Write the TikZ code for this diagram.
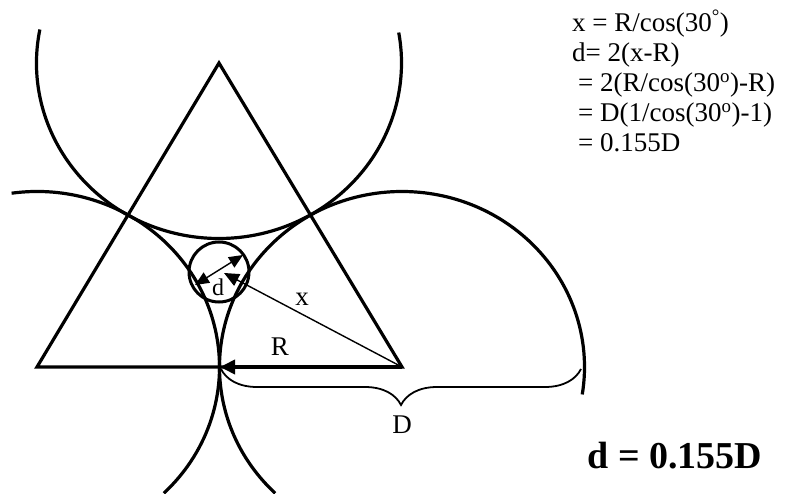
\documentclass[tikz,border=0pt]{standalone}
\usepackage{fontspec}
\setmainfont{Liberation Serif}
\usetikzlibrary{arrows.meta,decorations.pathreplacing}

\begin{document}
\begin{tikzpicture}[
    x=1pt,y=1pt,
    thickline/.style={line width=3.2pt},
    thinline/.style={line width=1.4pt},
    bigtip/.style={-{Triangle[length=15pt,width=13pt]}},
    lbl/.style={font=\fontsize{27}{32}\selectfont},
    eqline/.style={anchor=base west,inner sep=0pt,font=\fontsize{27}{30}\selectfont}
  ]
    \useasboundingbox (0,0) rectangle (792,-494);
    \coordinate (A) at (37,-367);
    \coordinate (B) at (402,-367);
    \coordinate (C) at (219,-63);
    \coordinate (T) at (220,-367);
    \coordinate (O) at (219,-272);
    \coordinate (xtip) at (224,-273);
    \coordinate (d1) at (195,-285);
    \coordinate (d2) at (243,-255);

    % triangle and the three circles
    \draw[thickline,line join=miter] (A) -- (B) -- (C) -- cycle;
    \draw[thickline] (C) ++(169:182.5 and 175.5) arc[start angle=169,end angle=370,x radius=182.5,y radius=175.5];
    \draw[thickline] (A) ++(98:182.5 and 175.5) arc[start angle=98,end angle=-46,x radius=182.5,y radius=175.5];
    \draw[thickline] (B) ++(226:182.5 and 175.5) arc[start angle=226,end angle=-9,x radius=182.5,y radius=175.5];
    \draw[line width=3pt] (O) circle[radius=30];

    % dimensions
    \draw[line width=4pt,-{Triangle[length=15pt,width=14pt]}] (B) -- (T);
    \draw[thinline,bigtip] (B) -- (xtip);
    \draw[thinline,{Triangle[length=14pt,width=12pt]}-{Triangle[length=14pt,width=12pt]}] (d1) -- (d2);
    \draw[line width=1.8pt,decorate,decoration={brace,mirror,amplitude=36pt}] (221,-369) -- (581,-369);

    \node[lbl] (labR) at (280,-347) {R};
    \node[lbl] (labx) at (302,-299) {x};
    \node[font=\fontsize{24}{28}\selectfont] (labd) at (218,-287) {d};
    \node[lbl] (labD) at (402,-425) {D};

    \node[eqline] (eqx) at (572,-32) {x = R/cos(30\textsuperscript{°})};
    \node[eqline] (eqd) at (572,-62) {d= 2(x-R)};
    \node[eqline] (eqR) at (578,-92) {= 2(R/cos(30\textsuperscript{o})-R)};
    \node[eqline] (eqD) at (578,-122) {= D(1/cos(30\textsuperscript{o})-1)};
    \node[eqline] (eqn) at (578,-152) {= 0.155D};
    \node[font=\bfseries\fontsize{38}{44}\selectfont] (result) at (675,-456) {d = 0.155D};
  \end{tikzpicture}
\end{document}
